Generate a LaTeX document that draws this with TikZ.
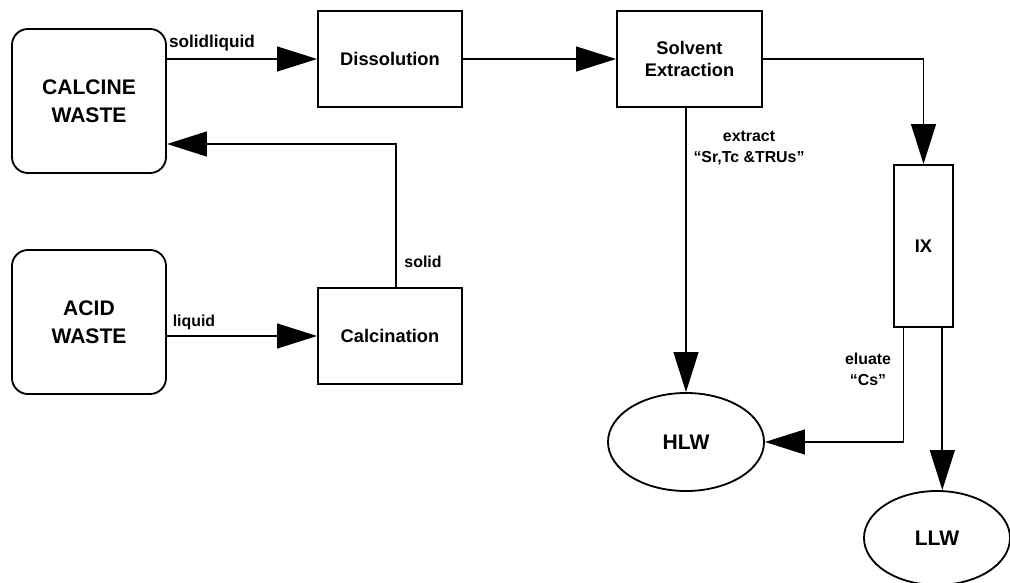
\documentclass[tikz,border=0pt]{standalone}
\usepackage{fontspec}
\setmainfont{Liberation Sans}
\usetikzlibrary{arrows.meta,shapes.geometric}
\begin{document}
\begin{tikzpicture}[x=0.025cm,y=-0.025cm,line width=1.3pt,
    >={Triangle[length=1cm,width=0.62cm]},
    waste/.style={draw,rounded corners=0.4cm,minimum width=3.85cm,minimum height=3.6cm,align=center,font=\bfseries\fontsize{15}{20}\selectfont},
    unit/.style={draw,minimum width=3.6cm,minimum height=2.4cm,align=center,font=\bfseries\fontsize{13}{15.6}\selectfont},
    sink/.style={draw,ellipse,align=center,font=\bfseries\fontsize{15}{20}\selectfont},
    lbl/.style={align=center,inner sep=0pt,font=\bfseries\fontsize{11.3}{15}\selectfont}]
    \useasboundingbox (0,0) rectangle (1010,583);
    % feeds
    \node[waste] (calcine) at (89,101) {CALCINE\\WASTE};
    \node[waste] (acid) at (89,322) {ACID\\WASTE};
    % process units
    \node[unit] (dissolution) at (390,59) {Dissolution};
    \node[unit] (calcination) at (390,336) {Calcination};
    \node[unit,minimum width=3.625cm] (solvent) at (689.5,59) {Solvent\\Extraction};
    \node[draw,minimum width=1.475cm,minimum height=4.05cm,font=\bfseries\fontsize{13}{15.6}\selectfont] (ix) at (923.5,246) {IX};
    % products
    \node[sink,minimum width=3.9cm,minimum height=2.45cm] (hlw) at (686,442) {HLW};
    \node[sink,minimum width=3.65cm,minimum height=2.35cm] (llw) at (937,538) {LLW};

    \draw[->] (calcine.east |- dissolution.west) -- (dissolution.west);
    \draw[->] (dissolution.east) -- (solvent.west);
    \draw[->] (solvent.east) -| (ix.north);
    \draw[->] (solvent.south -| hlw.north) -- (hlw.north);
    \draw[->] ([xshift=-0.5cm]ix.south) |- (hlw.east);
    \draw[->] ([xshift=0.47cm]ix.south) -- ([xshift=0.47cm]ix.south |- llw.north);
    \draw[->] (acid.east |- calcination.west) -- (calcination.west);
    \draw[->] ([xshift=0.15cm]calcination.north) |- ([yshift=-1.075cm]calcine.east);

    \node[lbl,font=\bfseries\fontsize{12.2}{15}\selectfont] (lsolidliquid) at (212,43) {solidliquid};
    \node[lbl] (lliquid) at (194,322) {liquid};
    \node[lbl] (lsolid) at (423,262) {solid};
    \node[lbl] (lextract) at (749,148) {extract\\“Sr,Tc \&TRUs”};
    \node[lbl] (leluate) at (868,369) {eluate\\“Cs”};
\end{tikzpicture}
\end{document}
